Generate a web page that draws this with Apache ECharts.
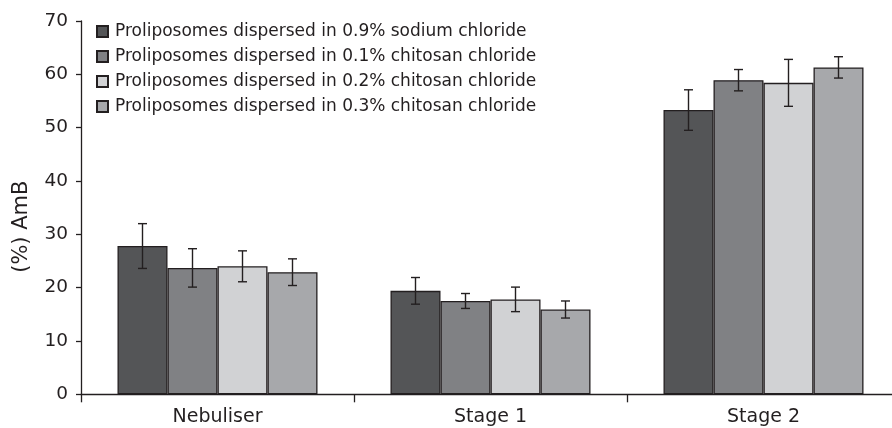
<!DOCTYPE html>
<html>
<head>
<meta charset="utf-8">
<script src="https://cdn.jsdelivr.net/npm/echarts@6/dist/echarts.min.js"></script>
<style>
html,body{margin:0;padding:0;background:#fff;}
#chart{width:892px;height:428px;}
</style>
</head>
<body>
<div id="chart"></div>
<script>
var categories = ['Nebuliser', 'Stage 1', 'Stage 2'];
var seriesNames = [
  'Proliposomes dispersed in 0.9% sodium chloride',
  'Proliposomes dispersed in 0.1% chitosan chloride',
  'Proliposomes dispersed in 0.2% chitosan chloride',
  'Proliposomes dispersed in 0.3% chitosan chloride'
];
var sodium09 = [27.8, 19.4, 53.3];
var chitosan01 = [23.7, 17.5, 58.9];
var chitosan02 = [24.0, 17.8, 58.4];
var chitosan03 = [22.9, 15.9, 61.3];
var sodium09Err = [4.2, 2.5, 3.8];
var chitosan01Err = [3.6, 1.4, 2.0];
var chitosan02Err = [2.9, 2.3, 4.4];
var chitosan03Err = [2.5, 1.6, 2.0];
var yTicks = [0, 10, 20, 30, 40, 50, 60, 70];

var values = [sodium09, chitosan01, chitosan02, chitosan03];
var errors = [sodium09Err, chitosan01Err, chitosan02Err, chitosan03Err];
var colors = ['#545557', '#808184', '#d1d2d4', '#a7a8ab'];
var ink = '#231f20';
var font = 'DejaVu Sans';
var BAR_W = 50;

var chart = echarts.init(document.getElementById('chart'), null, {renderer: 'canvas'});

var series = [];
values.forEach(function (vals, i) {
  series.push({
    name: seriesNames[i],
    type: 'bar',
    data: vals,
    barWidth: BAR_W,
    barGap: '0%',
    itemStyle: {color: colors[i], borderColor: ink, borderWidth: 1.3},
    z: 2
  });
});

var errData = [];
values.forEach(function (vals, i) {
  vals.forEach(function (v, c) {
    errData.push([c, v - errors[i][c], v + errors[i][c], i]);
  });
});

series.push({
  type: 'custom',
  name: 'err',
  data: errData,
  encode: {x: 0, y: [1, 2]},
  z: 5,
  silent: true,
  renderItem: function (params, api) {
    var c = api.value(0);
    var lo = api.coord([c, api.value(1)]);
    var hi = api.coord([c, api.value(2)]);
    var idx = api.value(3);
    var x = lo[0] + (idx - 1.5) * BAR_W;
    var hw = 4.5;
    var st = {stroke: ink, lineWidth: 1.4};
    return {
      type: 'group',
      children: [
        {type: 'line', shape: {x1: x, y1: lo[1], x2: x, y2: hi[1]}, style: st},
        {type: 'line', shape: {x1: x - hw, y1: lo[1], x2: x + hw, y2: lo[1]}, style: st},
        {type: 'line', shape: {x1: x - hw, y1: hi[1], x2: x + hw, y2: hi[1]}, style: st}
      ]
    };
  }
});

chart.setOption({
  animation: false,
  backgroundColor: '#ffffff',
  grid: {left: 81, top: 21, right: -8, bottom: 33.7, containLabel: false, outerBoundsMode: 'none'},
  legend: {
    data: seriesNames,
    orient: 'vertical',
    left: 96,
    top: 23,
    padding: 0,
    icon: 'rect',
    itemWidth: 11,
    itemHeight: 11,
    itemGap: 8,
    textStyle: {fontFamily: font, fontSize: 17, color: ink, lineHeight: 17, padding: [0, 0, 0, 2]},
    selectedMode: false
  },
  xAxis: {
    type: 'category',
    data: categories,
    axisLine: {lineStyle: {color: ink, width: 1.3}},
    axisTick: {show: true, length: 8, inside: false, lineStyle: {color: ink, width: 1.3}},
    axisLabel: {fontFamily: font, fontSize: 19, color: ink, margin: 13}
  },
  yAxis: {
    type: 'value',
    min: 0,
    max: 70,
    interval: 10,
    name: '(%) AmB',
    nameLocation: 'middle',
    nameGap: 49,
    nameRotate: 90,
    nameTextStyle: {fontFamily: font, fontSize: 21, color: ink, padding: [0, 38, 0, 0]},
    axisLine: {show: true, lineStyle: {color: ink, width: 1.3}},
    axisTick: {show: true, length: 5, inside: false, lineStyle: {color: ink, width: 1.3}},
    splitLine: {show: false},
    axisLabel: {fontFamily: font, fontSize: 18.5, color: ink, margin: 13,
      formatter: function (v) { return yTicks.indexOf(v) >= 0 ? String(v) : ''; }}
  },
  series: series
});
</script>
</body>
</html>
